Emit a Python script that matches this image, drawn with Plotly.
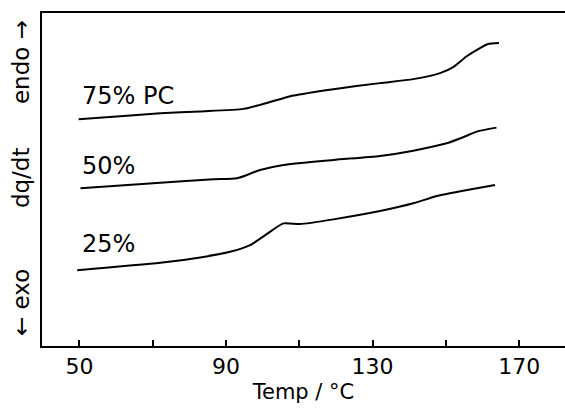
import plotly.graph_objects as go

# Temperatures (°C) and heat-flow signal (arbitrary units)
temp_75 = [49.8, 63.0, 72.1, 83.0, 94.8, 99.3, 108.4, 119.3, 132.0, 141.1, 148.4, 152.0, 155.6, 159.3, 161.5, 164.5]
dq_75 = [226.4, 229.9, 232.4, 234.2, 236.7, 240.7, 250.0, 256.4, 262.4, 266.4, 272.4, 278.4, 289.0, 297.4, 301.4, 302.4]

temp_50 = [50.3, 72.1, 86.6, 93.0, 99.3, 105.7, 119.3, 132.0, 141.1, 150.2, 154.7, 158.4, 163.8]
dq_50 = [157.4, 163.0, 166.4, 167.4, 175.7, 180.7, 185.7, 189.7, 195.0, 202.4, 208.4, 214.0, 218.0]

temp_25 = [49.4, 72.1, 83.0, 91.1, 96.6, 101.1, 105.7, 110.2, 119.3, 132.0, 141.1, 147.5, 154.7, 163.4]
dq_25 = [75.7, 83.0, 88.4, 94.0, 100.7, 111.7, 122.4, 121.7, 126.4, 134.7, 142.4, 149.7, 155.0, 160.7]

series_labels = ["75% PC", "50%", "25%"]
label_pos_x = [50.3, 50.3, 50.3]
label_pos_y = [234, 164, 86]

tick_vals = [50, 70, 90, 110, 130, 150, 170]
tick_text = ["50", "", "90", "", "130", "", "170"]

FONT = "DejaVu Sans"

fig = go.Figure()
for t, d in [(temp_75, dq_75), (temp_50, dq_50), (temp_25, dq_25)]:
    fig.add_trace(go.Scatter(x=t, y=d, mode="lines", line=dict(color="black", width=2, shape="spline", smoothing=0.6),
                             showlegend=False, hoverinfo="skip"))

for lab, lx, ly in zip(series_labels, label_pos_x, label_pos_y):
    fig.add_annotation(x=lx, y=ly, xref="x", yref="y", text=lab, showarrow=False,
                       xanchor="left", yanchor="bottom", font=dict(family=FONT, size=24, color="black"))

for txt, ypix in [("endo →", 62), ("dq/dt", 178), ("← exo", 303)]:
    fig.add_annotation(x=-0.04, y=1 - (ypix - 13) / 333, xref="paper", yref="paper", text=txt,
                       showarrow=False, textangle=-90, xanchor="center", yanchor="middle",
                       font=dict(family=FONT, size=23, color="black"))

fig.update_layout(
    width=565, height=419,
    margin=dict(l=42, r=0, t=13, b=73),
    paper_bgcolor="white", plot_bgcolor="white",
    font=dict(family=FONT, size=22, color="black"),
    xaxis=dict(range=[39.8, 182.5], tickvals=tick_vals, ticktext=tick_text,
               ticks="inside", ticklen=6, tickwidth=2, tickcolor="black",
               showline=True, linewidth=2, linecolor="black", mirror=True,
               showgrid=False, zeroline=False,
               title=dict(text="Temp / °C", font=dict(family=FONT, size=21), standoff=6),
               tickfont=dict(family=FONT, size=22)),
    yaxis=dict(range=[0, 332.4], showticklabels=False, ticks="",
               showline=True, linewidth=2, linecolor="black",
               showgrid=False, zeroline=False),
)

fig.write_html("out.html", config={"displayModeBar": False},
               post_script="document.body.style.margin='0';")
